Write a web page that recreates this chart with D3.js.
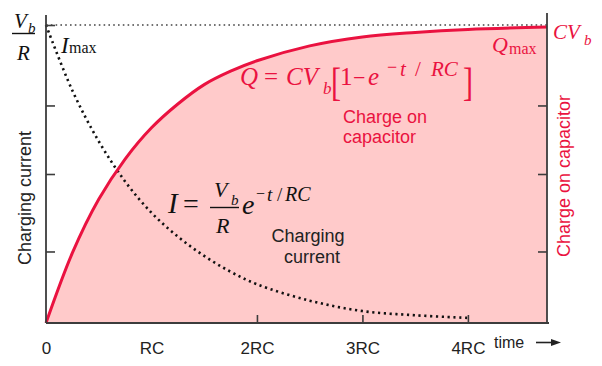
<!DOCTYPE html>
<html>
<head>
<meta charset="utf-8">
<script src="https://cdn.jsdelivr.net/npm/d3@7"></script>
<style>
  body { margin: 0; background: #fff; }
  svg { display: block; }
  .sans { font-family: "Liberation Sans", Arial, Helvetica, sans-serif; }
  .math { font-family: "Liberation Serif", "Times New Roman", serif; font-style: italic; }
  .rom { font-style: normal; }
</style>
</head>
<body>
<div id="chart"></div>
<script>
// time in units of RC
const chargeT = [0, 0.25, 0.5, 0.75, 1, 1.25, 1.5, 1.75, 2, 2.5, 3, 3.5, 4, 4.75];
// charge as fraction of CVb
const chargeQ = [0, 0.235, 0.415, 0.55, 0.655, 0.735, 0.80, 0.845, 0.88, 0.93, 0.96, 0.975, 0.985, 0.993];
const currentT = [0, 0.25, 0.5, 0.75, 1, 1.25, 1.5, 1.75, 2, 2.5, 3, 3.5, 4];
// current as fraction of Vb/R
const currentI = [1, 0.78, 0.61, 0.475, 0.37, 0.29, 0.225, 0.172, 0.13, 0.075, 0.04, 0.026, 0.017];
const xTicks = [0, 1, 2, 3, 4];
const xTickLabels = ['0', 'RC', '2RC', '3RC', '4RC'];
const yTicks = [0.24, 0.5, 0.73, 1];

const width = 602, height = 366;
const red = '#ea1240', pink = '#ffcaca', axisCol = '#3c3c3c';

const svg = d3.select('#chart').append('svg')
  .attr('width', width).attr('height', height);

const x = d3.scaleLinear().domain([0, 4.75]).range([46, 547]);
const y = d3.scaleLinear().domain([0, 1]).range([323, 25]);

const charge = chargeT.map((t, i) => ({t: t, v: chargeQ[i]}));
const current = currentT.map((t, i) => ({t: t, v: currentI[i]}));
const smooth = d3.curveCatmullRom.alpha(0.5);

// pink area under the charge curve
svg.append('path').datum(charge)
  .attr('fill', pink)
  .attr('d', d3.area().x(d => x(d.t)).y0(y(0)).y1(d => y(d.v)).curve(smooth));

// dotted line at max
svg.append('line')
  .attr('x1', x(0)).attr('x2', x(4.75)).attr('y1', y(1)).attr('y2', y(1))
  .attr('stroke', '#444').attr('stroke-width', 1.6).attr('stroke-dasharray', '1.6,3.2');

// current curve (dotted)
svg.append('path').datum(current)
  .attr('fill', 'none').attr('stroke', '#111').attr('stroke-width', 2.6)
  .attr('stroke-dasharray', '2.2,3.6')
  .attr('d', d3.line().x(d => x(d.t)).y(d => y(d.v)).curve(smooth));

// charge curve
svg.append('path').datum(charge)
  .attr('fill', 'none').attr('stroke', red).attr('stroke-width', 3)
  .attr('d', d3.line().x(d => x(d.t)).y(d => y(d.v)).curve(smooth));

// axes
const leftAxis = svg.append('g').attr('transform', `translate(${x(0)},0)`)
  .call(d3.axisRight(y).tickValues(yTicks).tickSize(9).tickFormat(''));
const rightAxis = svg.append('g').attr('transform', `translate(${x(4.75)},0)`)
  .call(d3.axisLeft(y).tickValues(yTicks.slice(0, 3)).tickSize(9).tickFormat(''));
const bottomAxis = svg.append('g').attr('transform', `translate(0,${y(0)})`)
  .call(d3.axisBottom(x).tickValues(xTicks).tickSize(-8).tickPadding(31)
    .tickFormat((d, i) => xTickLabels[i]));

[leftAxis, rightAxis, bottomAxis].forEach(g => {
  g.select('.domain').remove();
  g.selectAll('line').attr('stroke', axisCol).attr('stroke-width', 1.6);
});
bottomAxis.selectAll('.tick').filter(d => d < 2).select('line').remove();
bottomAxis.selectAll('text').attr('class', 'sans').attr('font-size', 17)
  .attr('fill', '#222').attr('dy', 0);

svg.append('line').attr('x1', x(0)).attr('x2', x(0)).attr('y1', 15).attr('y2', y(0))
  .attr('stroke', axisCol).attr('stroke-width', 1.8);
svg.append('line').attr('x1', x(4.75)).attr('x2', x(4.75)).attr('y1', 13).attr('y2', y(0))
  .attr('stroke', axisCol).attr('stroke-width', 1.8);
svg.append('line').attr('x1', x(0)).attr('x2', x(4.75) + 2).attr('y1', y(0)).attr('y2', y(0))
  .attr('stroke', axisCol).attr('stroke-width', 1.8);

// time arrow
svg.append('text').attr('class', 'sans').attr('x', 494).attr('y', 348)
  .attr('font-size', 16).attr('fill', '#222').text('time');
svg.append('line').attr('x1', 536).attr('x2', 553).attr('y1', 342.5).attr('y2', 342.5)
  .attr('stroke', '#222').attr('stroke-width', 1.6);
svg.append('path').attr('d', 'M551,339 L561,342.5 L551,346 Z').attr('fill', '#222');

// axis titles
svg.append('text').attr('class', 'sans').attr('font-size', 18).attr('fill', '#222')
  .attr('text-anchor', 'middle').attr('transform', 'translate(31,198) rotate(-90)')
  .text('Charging current');
svg.append('text').attr('class', 'sans').attr('font-size', 18).attr('fill', red)
  .attr('text-anchor', 'middle').attr('transform', 'translate(570,176) rotate(-90)')
  .text('Charge on capacitor');

// helper for math pieces
function mtext(txt, px, py, size, color, roman) {
  return svg.append('text').attr('class', 'math' + (roman ? ' rom' : ''))
    .attr('x', px).attr('y', py).attr('font-size', size).attr('fill', color).text(txt);
}

// Vb / R at top-left
mtext('V', 14, 28, 21, '#111');
mtext('b', 28, 33, 15, '#111');
svg.append('line').attr('x1', 12).attr('x2', 35).attr('y1', 33.5).attr('y2', 33.5)
  .attr('stroke', '#111').attr('stroke-width', 1.4);
mtext('R', 17, 60, 21, '#111');

// I max
mtext('I', 61, 53, 23, '#111');
mtext('max', 69, 53, 16, '#111', true);

// CVb and Q max
mtext('CV', 553, 39, 21, red);
mtext('b', 584, 45, 15, red);
mtext('Q', 492, 52, 22, red);
mtext('max', 509, 54, 16, red, true);

// Q = CVb[1 - e^(-t/RC)]
mtext('Q', 240, 85, 25, red);
mtext('=', 264, 85, 25, red, true);
mtext('CV', 286, 85, 25, red);
mtext('b', 323, 94, 17, red);
svg.append('text').attr('class', 'math rom').attr('font-size', 30).attr('fill', red)
  .attr('transform', 'translate(331,96) scale(1,1.3)').text('[');
mtext('1', 340, 85, 25, red, true);
mtext('\u2212', 353, 85, 22, red, true);
mtext('e', 368, 85, 25, red);
mtext('\u2212', 387, 73, 18, red, true);
mtext('t', 400, 76, 21, red);
mtext('/', 415, 76, 21, red, true);
mtext('RC', 431, 76, 21, red);
svg.append('text').attr('class', 'math rom').attr('font-size', 30).attr('fill', red)
  .attr('transform', 'translate(463,96) scale(1,1.3)').text(']');

svg.append('text').attr('class', 'sans').attr('font-size', 18).attr('fill', red)
  .attr('x', 343).attr('y', 123).text('Charge on');
svg.append('text').attr('class', 'sans').attr('font-size', 18).attr('fill', red)
  .attr('x', 343).attr('y', 143).text('capacitor');

// I = Vb/R e^(-t/RC)
mtext('I', 168, 213, 29, '#111');
mtext('=', 183, 213, 28, '#111', true);
mtext('V', 214, 197, 22, '#111');
mtext('b', 231, 205, 15, '#111');
svg.append('line').attr('x1', 210).attr('x2', 239).attr('y1', 207.5).attr('y2', 207.5)
  .attr('stroke', '#111').attr('stroke-width', 1.4);
mtext('R', 216, 233, 22, '#111');
mtext('e', 242, 214, 28, '#111');
mtext('\u2212', 256, 199, 16, '#111', true);
mtext('t', 267, 201, 19, '#111');
mtext('/', 277, 201, 19, '#111', true);
mtext('RC', 285, 201, 20, '#111');

svg.append('text').attr('class', 'sans').attr('font-size', 18).attr('fill', '#222')
  .attr('x', 308).attr('y', 242).attr('text-anchor', 'middle').text('Charging');
svg.append('text').attr('class', 'sans').attr('font-size', 18).attr('fill', '#222')
  .attr('x', 312).attr('y', 263).attr('text-anchor', 'middle').text('current');
</script>
</body>
</html>
